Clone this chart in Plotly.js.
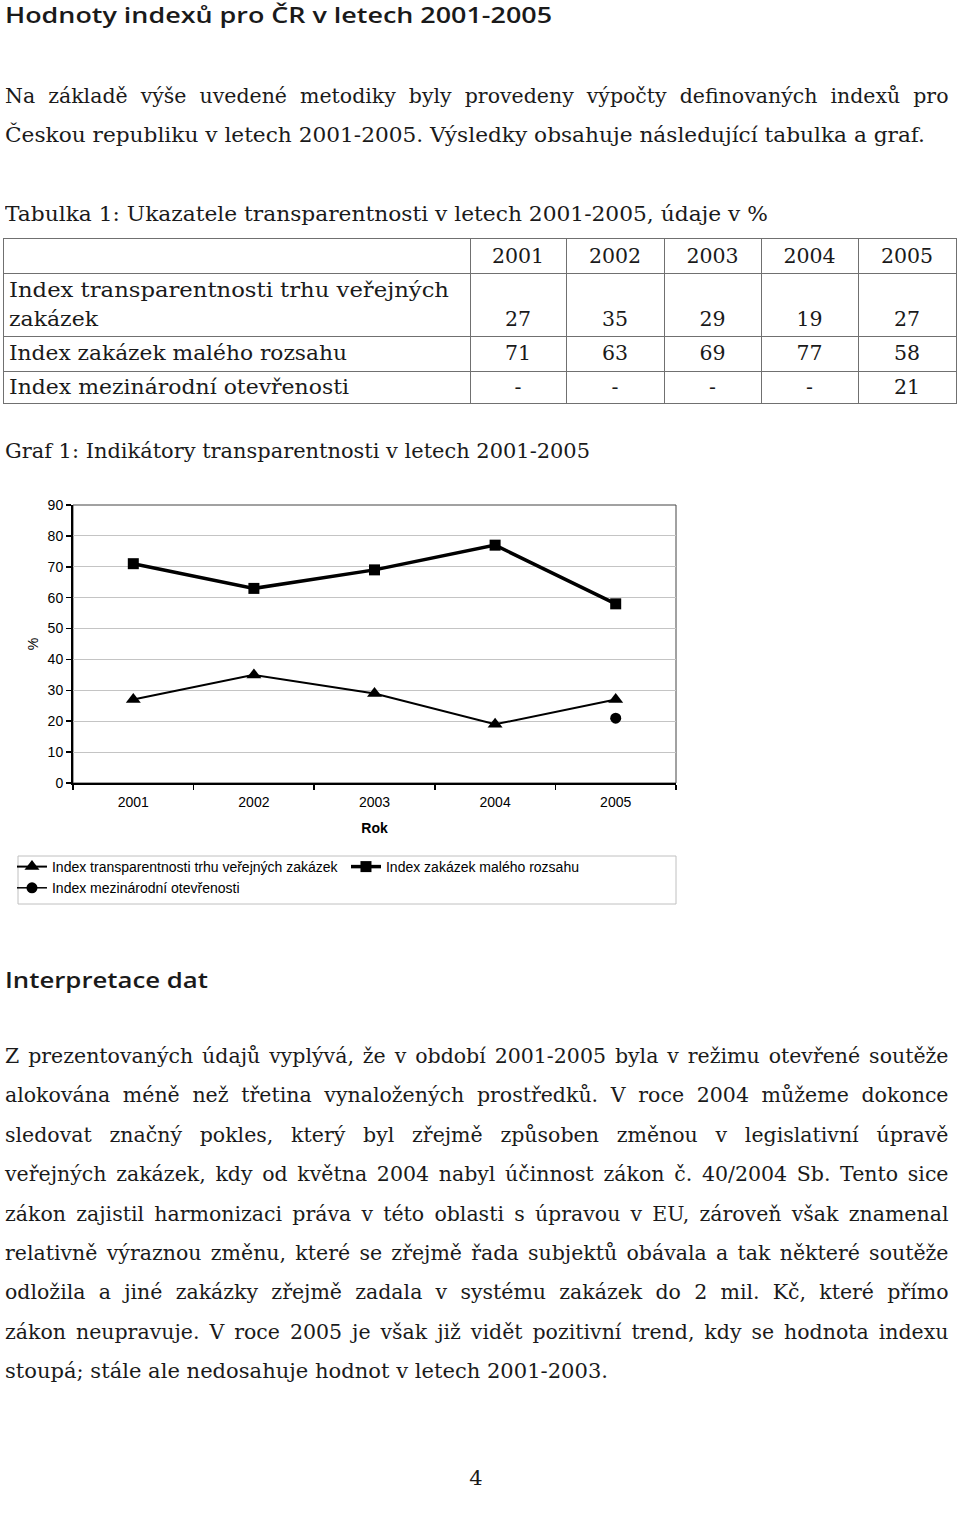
<!DOCTYPE html>
<html><head><meta charset="utf-8">
<script src="https://cdn.plot.ly/plotly-3.0.1.min.js"></script>
<style>
html,body{margin:0;padding:0;background:#fff;}
body{width:960px;height:1516px;position:relative;overflow:hidden;}
.t{position:absolute;white-space:nowrap;color:#1a1a1a;}
.ln{position:absolute;background:#707070;}
</style></head><body>
<div id="chart" style="position:absolute;left:0;top:470px;width:700px;height:450px;"></div>
<script>
// ---- data ----
const years = ['2001','2002','2003','2004','2005'];
const transparency = [27, 35, 29, 19, 27];
const smallContracts = [71, 63, 69, 77, 58];
const international = [null, null, null, null, 21];
const seriesNames = ['Index transparentnosti trhu veřejných zakázek', 'Index zakázek malého rozsahu', 'Index mezinárodní otevřenosti'];
const tableRows = [['Index transparentnosti trhu veřejných', 'zakázek'], ['Index zakázek malého rozsahu'], ['Index mezinárodní otevřenosti']];
const yTicks = [0,10,20,30,40,50,60,70,80,90];

const SERIF = '"DejaVu Serif", serif';
const SANS = '"Open Sans", "Lato", sans-serif';
const BODY = 20.5;

function addText(txt, x, yc, o) {
  o = o || {};
  const d = document.createElement('div');
  d.className = 't';
  d.textContent = txt;
  const lh = o.lh || 30;
  d.style.fontFamily = o.font || SERIF;
  d.style.fontSize = (o.size || BODY) + 'px';
  d.style.fontWeight = o.weight || 'normal';
  d.style.lineHeight = lh + 'px';
  d.style.top = (yc - lh / 2 + (o.dy || 0)) + 'px';
  d.style.left = '0px';
  document.body.appendChild(d);
  const nat = d.getBoundingClientRect().width;
  const w = o.w || nat;
  let left = o.align === 'center' ? x - w / 2 : (o.align === 'right' ? x - w : x);
  d.style.left = left + 'px';
  if (o.w) {
    if (o.justify && nat < o.w) {
      d.style.whiteSpace = 'normal';
      d.style.width = (o.w + 0.5) + 'px';
      d.style.textAlign = 'justify';
      d.style.textAlignLast = 'justify';
    } else {
      d.style.transformOrigin = '0 50%';
      d.style.transform = 'scaleX(' + (o.w / nat) + ')';
    }
  }
  return d;
}
function line(x, y, w, h) {
  const d = document.createElement('div');
  d.className = 'ln';
  d.style.left = x + 'px'; d.style.top = y + 'px';
  d.style.width = w + 'px'; d.style.height = h + 'px';
  document.body.appendChild(d);
}

// ---- header & intro ----
addText('Hodnoty indexů pro ČR v letech 2001-2005', 5, 14, {font: SANS, size: 22, weight: 600, w: 547});
addText('Na základě výše uvedené metodiky byly provedeny výpočty definovaných indexů pro', 5, 96, {w: 943, justify: true});
addText('Českou republiku v letech 2001-2005. Výsledky obsahuje následující tabulka a graf.', 5, 135, {w: 920});
addText('Tabulka 1: Ukazatele transparentnosti v letech 2001-2005, údaje v %', 5, 214, {w: 763});

// ---- table ----
const hY = [238, 273, 336, 371, 403];
const vX = [3, 470, 566, 664, 761, 858, 956];
hY.forEach(y => line(3, y, 954, 1));
vX.forEach(x => line(x, 238, 1, 166));
const colC = [];
for (let i = 0; i < 5; i++) colC.push((vX[i + 1] + vX[i + 2]) / 2);
years.forEach((yr, i) => addText(yr, colC[i], 256, {align: 'center'}));
addText(tableRows[0][0], 9, 290, {w: 440});
addText(tableRows[0][1], 9, 319, {w: 89});
addText(tableRows[1][0], 9, 353, {w: 338});
addText(tableRows[2][0], 9, 387, {w: 340});
const fmt = v => (v === null ? '-' : String(v));
transparency.forEach((v, i) => addText(fmt(v), colC[i], 319, {align: 'center'}));
smallContracts.forEach((v, i) => addText(fmt(v), colC[i], 353, {align: 'center'}));
international.forEach((v, i) => addText(fmt(v), colC[i], 387, {align: 'center'}));

addText('Graf 1: Indikátory transparentnosti v letech 2001-2005', 5, 451, {w: 585});

// ---- interpretation ----
addText('Interpretace dat', 5, 979, {font: SANS, size: 22, weight: 600, w: 203});
const para = [
 'Z prezentovaných údajů vyplývá, že v období 2001-2005 byla v režimu otevřené soutěže',
 'alokována méně než třetina vynaložených prostředků. V roce 2004 můžeme dokonce',
 'sledovat značný pokles, který byl zřejmě způsoben změnou v legislativní úpravě',
 'veřejných zakázek, kdy od května 2004 nabyl účinnost zákon č. 40/2004 Sb. Tento sice',
 'zákon zajistil harmonizaci práva v této oblasti s úpravou v EU, zároveň však znamenal',
 'relativně výraznou změnu, které se zřejmě řada subjektů obávala a tak některé soutěže',
 'odložila a jiné zakázky zřejmě zadala v systému zakázek do 2 mil. Kč, které přímo',
 'zákon neupravuje. V roce 2005 je však již vidět pozitivní trend, kdy se hodnota indexu',
 'stoupá; stále ale nedosahuje hodnot v letech 2001-2003.'
];
para.forEach((p, i) => {
  const last = i === para.length - 1;
  addText(p, 5, 1056 + i * 39.4, last ? {w: 603} : {w: 943, justify: true});
});
addText('4', 476, 1478, {align: 'center', size: 21});

// ---- chart ----
const CF = 'Liberation Sans, Arial, sans-serif';
const traces = [
  {x: years, y: transparency, name: seriesNames[0], type: 'scatter', mode: 'lines+markers',
   line: {color: '#000', width: 2}, marker: {symbol: 'triangle-up', size: 13, color: '#000'}},
  {x: years, y: smallContracts, name: seriesNames[1], type: 'scatter', mode: 'lines+markers',
   line: {color: '#000', width: 3.5}, marker: {symbol: 'square', size: 11, color: '#000'}},
  {x: years, y: international, name: seriesNames[2], type: 'scatter', mode: 'lines+markers',
   line: {color: '#000', width: 1.5}, marker: {symbol: 'circle', size: 11, color: '#000'}}
];
const layout = {
  width: 700, height: 450,
  margin: {l: 73, r: 24, t: 35, b: 137},
  paper_bgcolor: 'rgba(0,0,0,0)', plot_bgcolor: '#fff',
  font: {family: CF, size: 14, color: '#000'},
  showlegend: true,
  xaxis: {type: 'category', range: [-0.5, 4.5], tickson: 'boundaries', ticks: 'outside', ticklen: 5,
    tickcolor: '#000', tickwidth: 1.5, showline: true, linecolor: '#000', linewidth: 2, showgrid: false,
    zeroline: false, tickfont: {family: CF, size: 14}, ticklabelstandoff: 5,
    title: {text: '<b>Rok</b>', font: {family: CF, size: 14}, standoff: 14}},
  yaxis: {range: [0, 90], tickvals: yTicks, ticks: 'outside', ticklen: 5, tickcolor: '#000', tickwidth: 1.5,
    showline: true, linecolor: '#000', linewidth: 2, gridcolor: '#c4c4c4', gridwidth: 1, zeroline: false,
    tickfont: {family: CF, size: 14},
    title: {text: '%', font: {family: CF, size: 14}, standoff: 6}},
  shapes: [
    {type: 'rect', xref: 'paper', yref: 'paper', x0: 0, x1: 1, y0: 0, y1: 1,
     line: {color: '#444', width: 1}, layer: 'below'},
    {type: 'rect', xref: 'paper', yref: 'paper', x0: -0.0912, x1: 1.0, y0: -0.4353, y1: -0.2626,
     line: {color: '#c0c0c0', width: 1}, fillcolor: 'rgba(0,0,0,0)', layer: 'above'}
  ],
  legend: {orientation: 'h', x: -0.1012, xanchor: 'left', y: -0.2446, yanchor: 'top',
    borderwidth: 0, bgcolor: 'rgba(0,0,0,0)', font: {family: CF, size: 14},
    entrywidth: 289, entrywidthmode: 'pixels', itemwidth: 30, tracegroupgap: 0, traceorder: 'normal'}
};
Plotly.newPlot('chart', traces, layout, {staticPlot: true, displayModeBar: false});
</script>
</body></html>
